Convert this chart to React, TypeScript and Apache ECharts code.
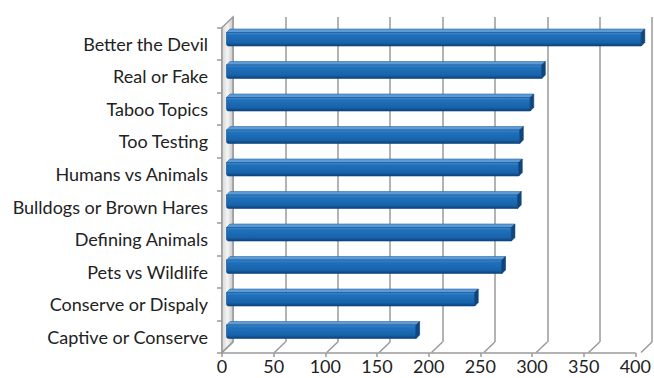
import React, { useEffect, useRef } from "react";
import * as echarts from "echarts";

const categories = [
  "Better the Devil",
  "Real or Fake",
  "Taboo Topics",
  "Too Testing",
  "Humans vs Animals",
  "Bulldogs or Brown Hares",
  "Defining Animals",
  "Pets vs Wildlife",
  "Conserve or Dispaly",
  "Captive or Conserve",
];
const values = [396, 301, 290, 280, 279, 278, 272, 263, 237, 181];
const tickValues = [0, 50, 100, 150, 200, 250, 300, 350, 400];

// 3D depth offset between back wall and front edge (px)
const DEPTH_X = -11;
const DEPTH_Y = 10.5;

export default function App() {
  const ref = useRef<HTMLDivElement>(null);

  useEffect(() => {
    if (!ref.current) return;
    const chart = echarts.init(ref.current, undefined, { renderer: "svg" });
    const font = "Lato, 'Open Sans', sans-serif";
    const lastIdx = categories.length - 1;

    const option: any = {
      animation: false,
      backgroundColor: "#ffffff",
      grid: [
        { left: 233, right: 2, top: 17, bottom: 36 },
        { left: 222, right: 13, top: 27.5, bottom: 25 },
      ],
      xAxis: [
        {
          gridIndex: 0,
          type: "value",
          min: 0,
          max: 400,
          interval: 50,
          axisLine: { show: false },
          axisTick: { show: false },
          axisLabel: { show: false },
          splitLine: { show: true, lineStyle: { color: "#9a9a9a", width: 1.5 } },
        },
        {
          gridIndex: 1,
          type: "value",
          min: 0,
          max: 400,
          interval: 50,
          axisLine: { show: true, lineStyle: { color: "#9a9a9a", width: 1.5 } },
          axisTick: { show: true, length: 4, lineStyle: { color: "#9a9a9a", width: 1.5 } },
          axisLabel: { show: true, fontFamily: font, fontSize: 18, color: "#222222", margin: 4 },
          splitLine: { show: false },
        },
      ],
      yAxis: [
        {
          gridIndex: 0,
          type: "category",
          data: categories,
          inverse: true,
          show: false,
        },
        {
          gridIndex: 1,
          type: "category",
          data: categories,
          inverse: true,
          axisLine: { show: true, lineStyle: { color: "#9a9a9a", width: 1.5 } },
          axisTick: { show: true, length: 5, lineStyle: { color: "#9a9a9a", width: 1.5 } },
          axisLabel: { fontFamily: font, fontSize: 18, color: "#222222", margin: 14 },
          splitLine: { show: false },
        },
      ],
      series: [
        {
          // floor diagonals and left wall
          type: "custom",
          xAxisIndex: 0,
          yAxisIndex: 0,
          silent: true,
          data: tickValues.map((v) => [v]),
          renderItem: (params: any, api: any) => {
            const v = api.value(0);
            const band = api.size([0, 1])[1];
            const pb = api.coord([v, lastIdx]);
            const pt = api.coord([v, 0]);
            const yb = pb[1] + band / 2;
            const yt = pt[1] - band / 2;
            const x = pb[0];
            const children: any[] = [
              {
                type: "line",
                shape: { x1: x, y1: yb, x2: x + DEPTH_X, y2: yb + DEPTH_Y },
                style: { stroke: "#9a9a9a", lineWidth: 1.5 },
              },
            ];
            if (v === 0) {
              children.unshift({
                type: "polygon",
                shape: {
                  points: [
                    [x, yt],
                    [x, yb],
                    [x + DEPTH_X, yb + DEPTH_Y],
                    [x + DEPTH_X, yt + DEPTH_Y],
                  ],
                },
                style: {
                  fill: new echarts.graphic.LinearGradient(0, 0, 1, 0, [
                    { offset: 0, color: "#d6d6d6" },
                    { offset: 0.5, color: "#f4f4f4" },
                    { offset: 1, color: "#c8c8c8" },
                  ]),
                  stroke: "#9a9a9a",
                  lineWidth: 1.5,
                },
              });
            }
            return { type: "group", children };
          },
          z: 1,
        },
        {
          // 3D bars
          type: "custom",
          xAxisIndex: 0,
          yAxisIndex: 0,
          data: values.map((v, i) => [v, i]),
          renderItem: (params: any, api: any) => {
            const v = api.value(0);
            const i = api.value(1);
            const s = api.coord([0, i]);
            const e = api.coord([v, i]);
            const dx = -6.5;
            const dy = 5.25;
            const cy = s[1] + dy;
            const x0 = s[0] + dx;
            const x1 = e[0] + dx;
            const d = 3.5;
            const top = cy - 6;
            const bot = cy + 7.5;
            return {
              type: "group",
              children: [
                {
                  type: "polygon",
                  shape: {
                    points: [
                      [x0, top],
                      [x0 + d, top - d],
                      [x1 + d, top - d],
                      [x1, top],
                    ],
                  },
                  style: { fill: "#5d9bd6", stroke: "#2a6aa8", lineWidth: 0.6 },
                },
                {
                  type: "rect",
                  shape: { x: x0, y: top, width: x1 - x0, height: bot - top, r: [0, 0, 0, 2] },
                  style: {
                    fill: new echarts.graphic.LinearGradient(0, 0, 0, 1, [
                      { offset: 0, color: "#3f8bd0" },
                      { offset: 0.2, color: "#1f70bb" },
                      { offset: 0.75, color: "#1863aa" },
                      { offset: 1, color: "#0c3f77" },
                    ]),
                    stroke: "#0f4a86",
                    lineWidth: 0.6,
                  },
                },
                {
                  type: "polygon",
                  shape: {
                    points: [
                      [x1, top],
                      [x1 + d, top - d],
                      [x1 + d, bot - d],
                      [x1, bot],
                    ],
                  },
                  style: { fill: "#0f4680", stroke: "#0b3a6b", lineWidth: 0.6 },
                },
              ],
            };
          },
          z: 3,
        },
      ],
    };

    chart.setOption(option);
    return () => chart.dispose();
  }, []);

  return (
    <div
      ref={ref}
      style={{ position: "fixed", left: 0, top: 0, width: 654, height: 378 }}
    />
  );
}
